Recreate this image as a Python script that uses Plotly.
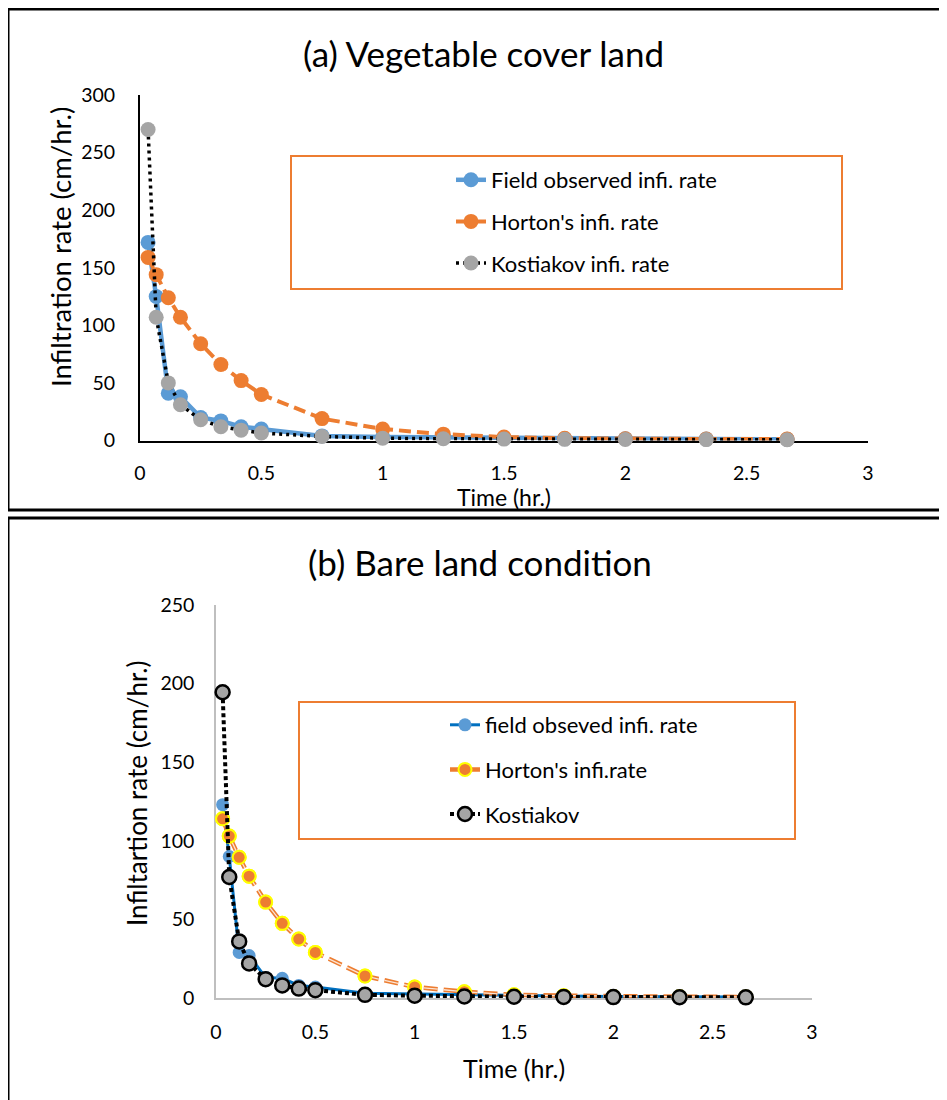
import plotly.graph_objects as go

# ---------------- data ----------------
time_hr = [0.0333, 0.0667, 0.1167, 0.1667, 0.25, 0.3333, 0.4167, 0.5,
           0.75, 1.0, 1.25, 1.5, 1.75, 2.0, 2.3333, 2.6667]

# (a) Vegetable cover land
veg_field = [172, 125, 41, 38, 20, 17, 12, 10, 4, 3, 2.5, 2, 1.5, 1.5, 1.2, 1.0]
veg_horton = [159, 144, 124, 107, 84, 66, 52, 40, 19, 10, 5.5, 3, 2, 1.5, 1.3, 1.2]
veg_kost = [270, 107, 50, 31, 18, 12, 9, 6.5, 3.5, 2, 1.5, 1.2, 1.0, 0.9, 0.8, 0.7]

# (b) Bare land condition
bare_field = [123, 90, 29, 27, 13, 12.5, 8, 7, 3, 2.5, 2, 1.5, 1.2, 1.0, 0.8, 0.6]
bare_horton = [114, 103, 89.5, 77.5, 61, 47.5, 37.5, 29, 14, 7, 4, 2, 1.5, 1.0, 0.8, 0.7]
bare_kost = [194.5, 77, 36, 22, 12, 8, 6, 5, 2, 1.5, 1.0, 0.8, 0.7, 0.6, 0.5, 0.4]

x_ticks = [0, 0.5, 1, 1.5, 2, 2.5, 3]
x_tick_text = ["0", "0.5", "1", "1.5", "2", "2.5", "3"]

W, H = 947, 1100
OFF = 8  # page body margin of the browser
FONT = "Lato"
BLUE = "#5B9BD5"
ORANGE = "#ED7D31"
GRAY = "#A5A5A5"

def px_x(p):
    return (p - OFF) / W

def px_y(p):
    return 1 - (p - OFF) / H

fig = go.Figure()

# ---------- top chart ----------
fig.add_trace(go.Scatter(
    x=time_hr, y=veg_field, name="Field observed infi. rate",
    mode="lines+markers", line=dict(color=BLUE, width=4.5),
    marker=dict(color=BLUE, size=15), cliponaxis=False,
    xaxis="x", yaxis="y", legend="legend", legendgroup="a1"))
fig.add_trace(go.Scatter(
    x=time_hr, y=veg_horton, name="Horton's infi. rate",
    mode="lines+markers", line=dict(color=ORANGE, width=4, dash="12px,6px"),
    marker=dict(color=ORANGE, size=15), cliponaxis=False,
    xaxis="x", yaxis="y", legend="legend", legendgroup="a2"))
fig.add_trace(go.Scatter(
    x=time_hr, y=veg_kost, name="Kostiakov infi. rate",
    mode="lines+markers", line=dict(color="black", width=3.5, dash="3px,4px"),
    marker=dict(color=GRAY, size=15), cliponaxis=False,
    xaxis="x", yaxis="y", legend="legend", legendgroup="a3"))

# ---------- bottom chart ----------
fig.add_trace(go.Scatter(
    x=time_hr, y=bare_field, name="field obseved infi. rate",
    mode="lines+markers", line=dict(color="#0070C0", width=3),
    marker=dict(color=BLUE, size=13), cliponaxis=False,
    xaxis="x2", yaxis="y2", legend="legend2", legendgroup="b1"))
fig.add_trace(go.Scatter(
    x=time_hr, y=bare_horton, name="Horton's infi.rate",
    mode="lines+markers", line=dict(color=ORANGE, width=4.5, dash="14px,6px"),
    marker=dict(color=ORANGE, size=13, line=dict(color="#FFFF00", width=2)),
    cliponaxis=False,
    xaxis="x2", yaxis="y2", legend="legend2", legendgroup="b2"))
fig.add_trace(go.Scatter(
    x=time_hr, y=bare_horton, showlegend=False, hoverinfo="skip",
    mode="lines", line=dict(color="#FBE5D6", width=1.3, dash="14px,6px"),
    cliponaxis=False, xaxis="x2", yaxis="y2"))
fig.add_trace(go.Scatter(
    x=time_hr, y=bare_horton, showlegend=False, hoverinfo="skip",
    mode="markers", marker=dict(color=ORANGE, size=13, line=dict(color="#FFFF00", width=2)),
    cliponaxis=False, xaxis="x2", yaxis="y2"))
fig.add_trace(go.Scatter(
    x=time_hr, y=bare_kost, name="Kostiakov",
    mode="lines+markers", line=dict(color="black", width=4, dash="4px,3px"),
    marker=dict(color=GRAY, size=14, line=dict(color="black", width=2.5)),
    cliponaxis=False,
    xaxis="x2", yaxis="y2", legend="legend2", legendgroup="b3"))

tickfont = dict(family=FONT, size=19.5, color="black")

common_x = dict(range=[0, 3], tickvals=x_ticks, ticktext=x_tick_text,
                showgrid=False, zeroline=False, showline=True, automargin=False,
                ticks="outside", tickcolor="rgba(0,0,0,0)", tickfont=tickfont,
                layer="below traces", fixedrange=True)
common_y = dict(showgrid=False, zeroline=False, showline=True, dtick=50,
                automargin=False,
                ticks="outside", tickcolor="rgba(0,0,0,0)", tickfont=tickfont,
                layer="below traces", fixedrange=True)

fig.update_layout(
    width=W, height=H, autosize=False,
    margin=dict(l=0, r=0, t=0, b=0, pad=0),
    paper_bgcolor="white", plot_bgcolor="rgba(0,0,0,0)",
    font=dict(family=FONT, color="black"),
    xaxis=dict(common_x, domain=[px_x(140), px_x(868)], anchor="y",
               linecolor="black", linewidth=2, ticklen=14),
    yaxis=dict(common_y, domain=[px_y(440.5), px_y(95)], range=[0, 300],
               anchor="x", linecolor="black", linewidth=2, ticklen=19),
    xaxis2=dict(common_x, domain=[px_x(216), px_x(812)], anchor="y2",
                linecolor="#BFBFBF", linewidth=1.5, ticklen=16),
    yaxis2=dict(common_y, domain=[px_y(998), px_y(605)], range=[0, 250],
                anchor="x2", linecolor="#BFBFBF", linewidth=1.5, ticklen=16),
    legend=dict(x=px_x(451), y=px_y(159), xanchor="left", yanchor="top",
                bgcolor="rgba(0,0,0,0)", borderwidth=0,
                font=dict(family=FONT, size=22, color="black"),
                traceorder="grouped", tracegroupgap=10),
    legend2=dict(x=px_x(445), y=px_y(704), xanchor="left", yanchor="top",
                 bgcolor="rgba(0,0,0,0)", borderwidth=0,
                 font=dict(family=FONT, size=22, color="black"),
                 traceorder="grouped", tracegroupgap=13),
    showlegend=True,
)

shapes = [
    # panel borders
    dict(type="rect", xref="paper", yref="paper",
         x0=px_x(8), x1=px_x(990), y0=px_y(510), y1=px_y(9),
         line=dict(color="black", width=3), layer="below"),
    dict(type="rect", xref="paper", yref="paper",
         x0=px_x(8), x1=px_x(990), y0=px_y(1130), y1=px_y(518),
         line=dict(color="black", width=3), layer="below"),
    # legend boxes
    dict(type="rect", xref="paper", yref="paper",
         x0=px_x(291), x1=px_x(842), y0=px_y(289), y1=px_y(156),
         line=dict(color=ORANGE, width=2), layer="below"),
    dict(type="rect", xref="paper", yref="paper",
         x0=px_x(299), x1=px_x(795), y0=px_y(839), y1=px_y(702),
         line=dict(color=ORANGE, width=2), layer="below"),
]
fig.update_layout(shapes=shapes)

annotations = [
    dict(text="(a) Vegetable cover land", x=px_x(483), y=px_y(53),
         font=dict(family=FONT, size=35, color="black")),
    dict(text="Infiltration rate (cm/hr.)", x=px_x(60), y=px_y(247),
         textangle=-90, font=dict(family=FONT, size=27.5, color="black")),
    dict(text="Time (hr.)", x=px_x(504), y=px_y(497),
         font=dict(family=FONT, size=23, color="black")),
    dict(text="(b) Bare land condition", x=px_x(480), y=px_y(562),
         font=dict(family=FONT, size=35, color="black")),
    dict(text="Infiltartion rate (cm/hr.)", x=px_x(137), y=px_y(794),
         textangle=-90, font=dict(family=FONT, size=26, color="black")),
    dict(text="Time (hr.)", x=px_x(514), y=px_y(1068),
         font=dict(family=FONT, size=25, color="black")),
]
for a in annotations:
    a.update(xref="paper", yref="paper", showarrow=False,
             xanchor="center", yanchor="middle")
fig.update_layout(annotations=annotations)

fig.write_html("out.html")
